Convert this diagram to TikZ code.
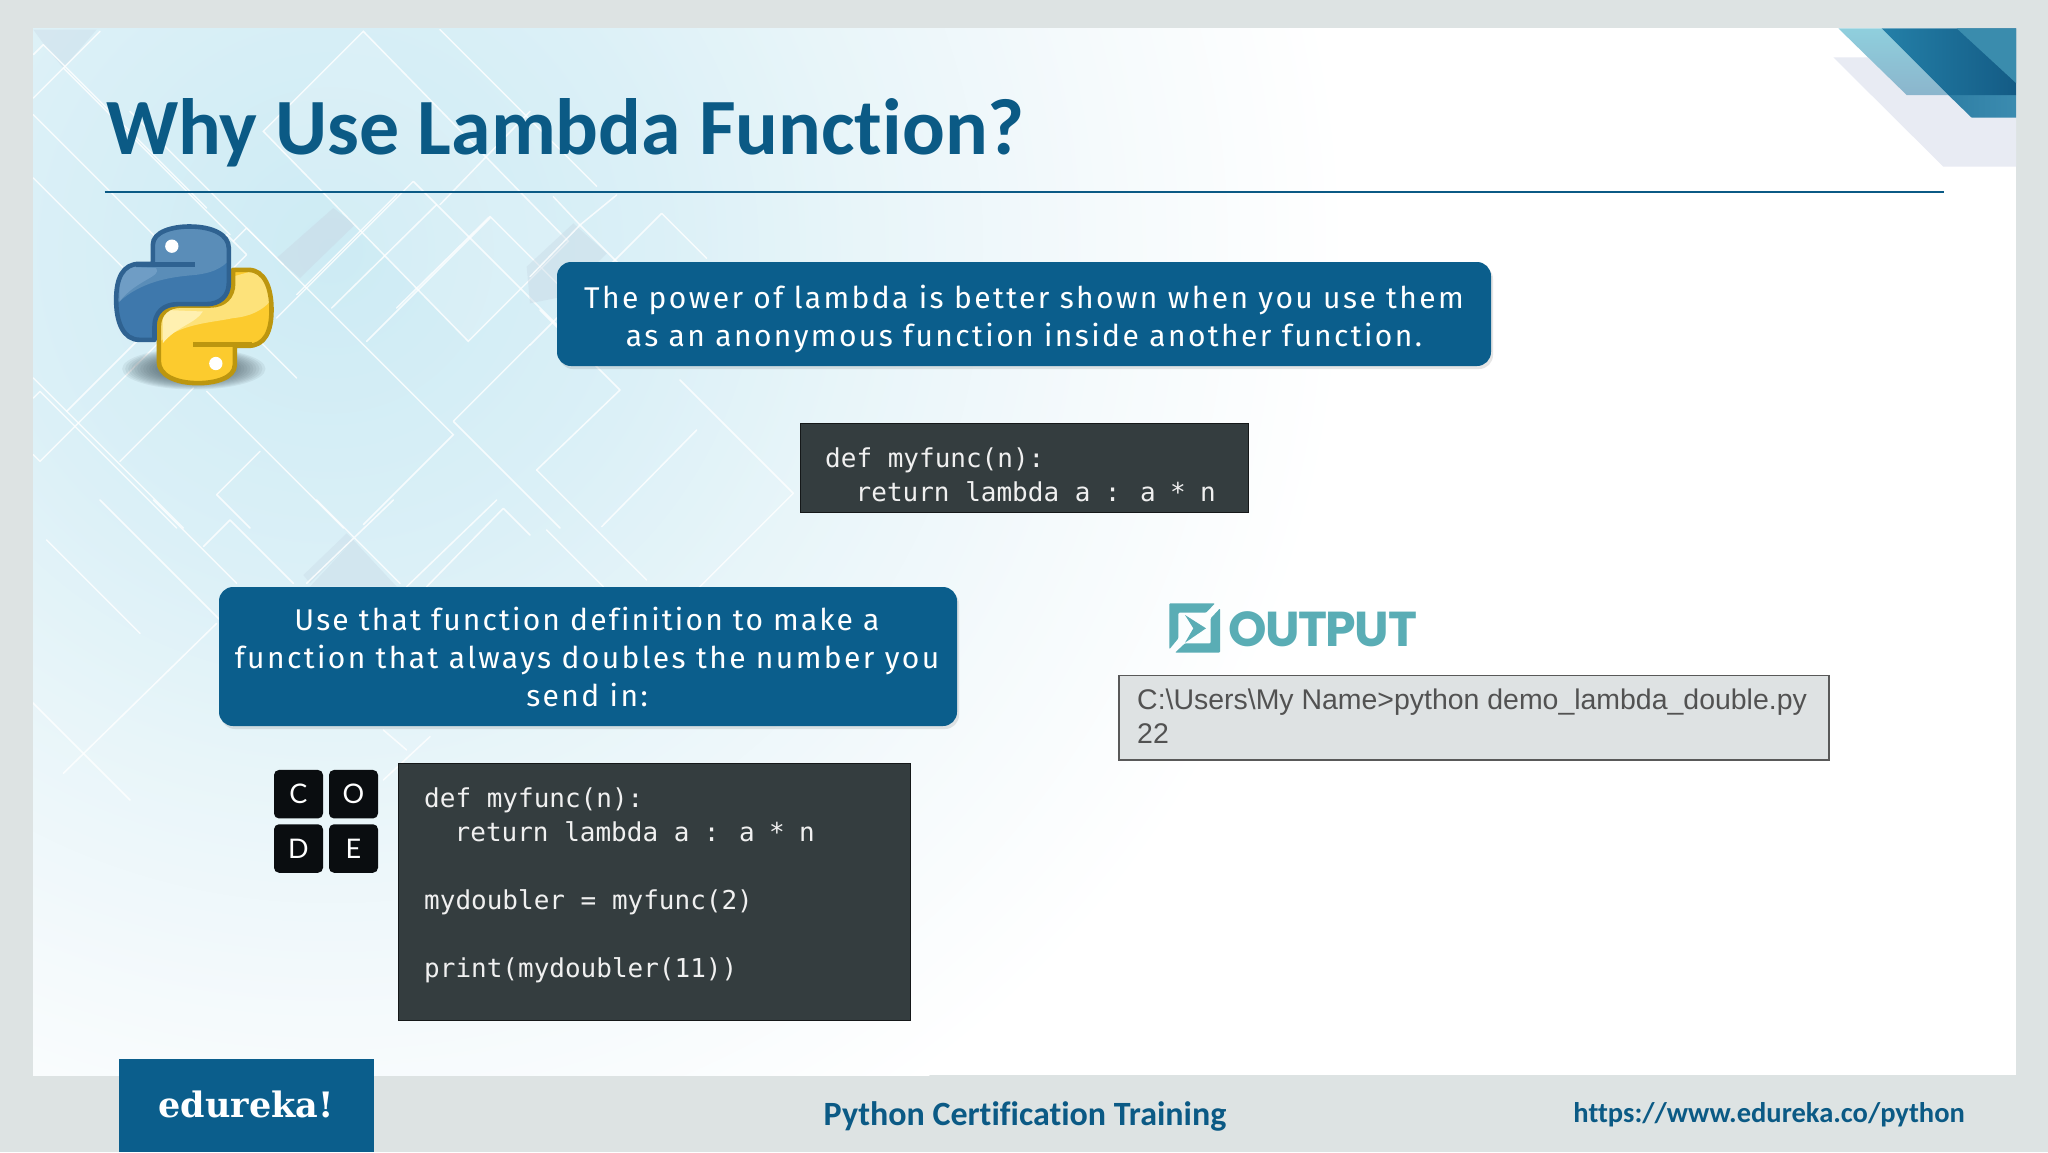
\documentclass[tikz,border=0pt]{standalone}
\usepackage{fontspec}
\setmainfont{Liberation Sans}
\newfontfamily\titlefont{Carlito}[BoldFont=Carlito Bold,Ligatures=NoCommon]
\newfontfamily\boxfont{Fira Sans}[LetterSpace=8,Ligatures=NoCommon]
\newfontfamily\codefont{DejaVu Sans Mono}
\newfontfamily\slabfont{DejaVu Serif}
\newfontfamily\logofont{Poppins}
\newfontfamily\tilefont{Lato}
\definecolor{frameC}{HTML}{DDE3E3}
\definecolor{eduB}{HTML}{0B5E8C}
\definecolor{titleB}{HTML}{0B5A85}
\definecolor{codeC}{HTML}{343D3F}
\definecolor{tealC}{HTML}{5AADB5}
\definecolor{outC}{HTML}{DEE2E3}
\definecolor{bandC}{HTML}{C9DAE6}
\definecolor{glowA}{HTML}{CDEBF4}
\definecolor{glowB}{HTML}{DBF0F7}
\definecolor{glowC}{HTML}{E8F5F9}
\definecolor{glowD}{HTML}{F5FAFC}
\definecolor{pyBlueLine}{HTML}{2F6291}
\definecolor{pyBlueFar}{HTML}{3E78AC}
\definecolor{pyBlueHead}{HTML}{5A8DB8}
\definecolor{pyBlueHi}{HTML}{6F9DC5}
\definecolor{pyYelLine}{HTML}{BC960F}
\definecolor{pyYelBase}{HTML}{FCCB2E}
\definecolor{pyYelUp}{HTML}{FDE27A}
\definecolor{pyYelHi}{HTML}{FFF0B0}
\definecolor{shadowC}{HTML}{4A5C64}
\definecolor{cornerGrey}{HTML}{E8EBF3}
\definecolor{cornerTealA}{HTML}{8FCFDD}
\definecolor{cornerTealB}{HTML}{8BB5CC}
\definecolor{cornerMainA}{HTML}{2480A8}
\definecolor{cornerMainB}{HTML}{135A84}
\definecolor{cornerTop}{HTML}{3A8CAD}
\definecolor{cornerLowA}{HTML}{2F7FA5}
\definecolor{cornerLowB}{HTML}{3C8CB0}
\definecolor{tileC}{HTML}{0A0D10}
\pgfdeclareradialshading{bgglow}{\pgfpointorigin}{
 color(0bp)=(glowA);
 color(8bp)=(glowB);
 color(13bp)=(glowC);
 color(19bp)=(glowD);
 color(25bp)=(white);
 color(50bp)=(white)}
\tikzset{
 bgline/.style={draw=white,line width=1.5pt,opacity=.8,line cap=round},
 bgband/.style={fill=bandC,opacity=.55},
 bubble/.style={fill=eduB,rounded corners=14pt,inner sep=0pt},
 bubbletext/.style={text=white,align=center,inner sep=0pt,
   font=\boxfont\fontsize{30}{37.8}\selectfont},
 bubbleshadow/.style={fill=black!55,opacity=.18,rounded corners=14pt},
 codebox/.style={fill=codeC,draw=black!60!codeC,line width=.8pt,inner sep=0pt},
 codetext/.style={text=white!94!black,align=left,inner sep=0pt,anchor=north west,
   font=\codefont\fontsize{26}{34}\selectfont},
 tile/.style={fill=tileC,rounded corners=5pt,text=white,inner sep=0pt,
   minimum width=49pt,minimum height=48.5pt,font=\tilefont\fontsize{27}{27}\selectfont},
 footertext/.style={text=titleB,inner sep=0pt,font=\titlefont\bfseries\fontsize{34}{34}\selectfont},
}
\newcommand{\bluepath}{(160,157) -- (160,100) .. controls (160,60) and (220,45) .. (270,45) .. controls (340,45) and (388,70) .. (388,110) -- (388,215) .. controls (388,255) and (360,278) .. (320,278) -- (235,278) .. controls (190,278) and (165,305) .. (165,345) -- (165,385) -- (120,385) .. controls (70,385) and (50,330) .. (50,265) .. controls (50,200) and (70,157) .. (120,157) -- cycle}
\newcommand{\yellowpath}{(406,403) -- (406,460) .. controls (406,500) and (346,515) .. (296,515) .. controls (226,515) and (178,490) .. (178,450) -- (178,345) .. controls (178,305) and (206,282) .. (246,282) -- (331,282) .. controls (376,282) and (401,255) .. (401,215) -- (401,175) -- (446,175) .. controls (496,175) and (516,230) .. (516,295) .. controls (516,360) and (496,403) .. (446,403) -- cycle}
\newcommand{\returnline}{\strut\ \ \kern-.8pt return lambda a\kern-1.3pt{} :\kern-1.3pt{} a\kern-1.3pt{} *\kern-1.3pt{} n}
\begin{document}
\begin{tikzpicture}[x=1pt,y=-1pt]
\useasboundingbox (0,0) rectangle (2048,1152);
\fill[frameC] (0,0) rectangle (2048,1152);
\fill[white] (33,28) rectangle (2016,1075);
\begin{scope}
 \clip (33,28) rectangle (2016,1075);
 \shade[shading=bgglow] (330,250) circle (1020);
 % diamonds, upper left
 \begin{scope}[shift={(30,28)},scale=1/3]
  \fill[white,opacity=.14] (1000,10) -- (700,310) -- (1315,940) -- (1615,640) -- cycle;
  \fill[bgband] (910,540) -- (740,690) -- (810,750) -- (975,590) -- cycle;
  \fill[bgband,opacity=.4] (10,5) -- (200,5) -- (100,120) -- (50,60) -- cycle;
  \path[bgline] (1000,10) -- (700,310) -- (1315,940) -- (1615,640) -- cycle;
  \path[bgline] (1150,460) -- (740,870) (1150,460) -- (1700,1010);
  \path[bgline] (1380,565) -- (1100,840) (1380,565) -- (1620,805);
  \path[bgline] (40,50) -- (10,80) (40,50) -- (530,540);
  \path[bgline] (100,120) -- (600,620);
  \path[bgline] (300,250) -- (1270,1220) -- (1000,1490);
  \path[bgline] (10,260) -- (800,1050);
  \path[bgline] (10,450) -- (560,1000);
  \path[bgline] (530,1090) -- (940,1500);
  \path[bgline] (30,1090) -- (10,1110) (30,1090) -- (440,1500);
  \path[bgline] (10,1050) -- (460,1500);
  \path[bgline] (30,1300) -- (10,1280) (30,1300) -- (400,930);
  \path[bgline] (110,1150) -- (500,760);
  \path[bgline] (270,1300) -- (490,1080);
  \path[bgline] (100,120) -- (210,10) (10,210) -- (100,120);
  \path[bgline] (650,600) -- (610,640) (650,600) -- (760,710);
  \path[bgline] (650,680) -- (590,620) (650,680) -- (610,720);
  \path[bgline] (1270,1180) -- (1500,950) (1270,1180) -- (1590,1500);
  \path[bgline] (560,1400) -- (690,1270) (560,1400) -- (660,1500);
  \path[bgline] (800,800) -- (1100,500);
  \path[bgline] (1010,940) -- (1380,570);
  \path[bgline] (905,840) -- (1220,530);
  \path[bgline] (1230,530) -- (1500,250);
  \path[bgline] (1230,5) -- (1700,475);
 \end{scope}
 % diamonds, centre
 \begin{scope}[shift={(530,190)},scale=1/3]
  \fill[bgband,opacity=.45] (-10,230) -- (130,100) -- (230,190) -- (100,320) -- (0,340) -- cycle;
  \path[bgline] (395,70) -- (160,305) -- (0,465) (395,70) -- (530,205);
  \path[bgline] (70,20) -- (150,105) -- (300,255);
  \path[bgline] (260,15) -- (150,105) -- (0,260);
  \path[bgline] (270,600) -- (20,840) (270,600) -- (30,360);
  \path[bgline] (790,910) -- (450,570) (790,910) -- (500,1200);
  \path[bgline] (20,840) -- (350,1170);
  \path[bgline] (50,1020) -- (220,1190);
  \path[bgline] (215,1010) -- (500,720);
 \end{scope}
 % diamonds, lower left
 \begin{scope}[shift={(30,500)},scale=1/3]
  \fill[bgband,opacity=.4] (950,100) -- (820,225) -- (840,250) -- (970,120) -- cycle;
  \fill[bgband,opacity=.45] (970,120) -- (840,260) -- (1100,260) -- cycle;
  \path[bgline] (600,60) -- (520,140) (600,60) -- (790,250);
  \path[bgline] (860,0) -- (1110,250) (1090,0) -- (830,250);
  \path[bgline] (1420,25) -- (1190,260) (1420,25) -- (1500,105);
  \path[bgline] (1400,0) -- (1130,260);
  \path[bgline] (370,0) -- (620,250);
  \path[bgline] (210,0) -- (830,620);
  \path[bgline] (50,120) -- (330,400);
  \path[bgline] (0,600) -- (300,900);
  \path[bgline] (100,820) -- (560,370);
  \path[bgline] (1060,690) -- (1130,750) (1200,710) -- (1060,840);
 \end{scope}
 % corner decoration
 \begin{scope}[shift={(1820,20)},scale=1/3]
  \fill[cornerGrey] (40,112) -- (600,112) -- (600,440) -- (370,440) -- cycle;
  \shade[left color=cornerLowA,right color=cornerLowB] (385,225) -- (600,225) -- (600,293) -- (455,293) -- cycle;
  \shade[top color=cornerTealA,bottom color=cornerTealB] (55,25) -- (185,25) -- (385,225) -- (260,225) -- cycle;
  \shade[left color=cornerMainA,right color=cornerMainB] (185,25) -- (600,25) -- (600,225) -- (385,225) -- cycle;
  \fill[cornerTop] (410,25) -- (600,25) -- (600,200) -- cycle;
 \end{scope}
\end{scope}
% title and rule
\node[anchor=west,text=titleB,inner sep=0pt,font=\titlefont\bfseries\fontsize{79.8}{80}\selectfont] (title) at (106,132.5) {Why Use Lambda Function?};
\coordinate (ruleL) at (104.5,192);
\coordinate (ruleR) at (1944,192);
\draw[titleB,line width=1.8pt] (ruleL) -- (ruleR);
% python logo
\begin{scope}[shift={(99.5,211.5)},scale=1/3]
 \foreach \k in {0,...,11} {
  \fill[shadowC,opacity=.085] (283,472) ellipse ({215-\k*9} and {62-\k*2.6});
 }
 % yellow snake
 \begin{scope}
  \clip \yellowpath;
  \fill[pyYelBase] (160,160) rectangle (530,530);
  \fill[pyYelUp] (170,400) .. controls (240,335) and (330,335) .. (400,320) .. controls (450,315) and (490,300) .. (525,255) -- (525,160) -- (170,260) -- cycle;
  \fill[pyYelHi] (190,395) .. controls (230,345) and (290,335) .. (310,300) -- (190,295) -- cycle;
 \end{scope}
 \draw[pyYelLine,line width=4.6pt,line join=round] \yellowpath;
 \draw[pyYelLine,line width=5pt] (456,400) -- (281,400);
 \fill[white] (349,456) circle (20);
 % blue snake
 \begin{scope}
  \clip \bluepath;
  \fill[pyBlueFar] (30,30) rectangle (400,400);
  \fill[pyBlueHead] (40,290) .. controls (120,200) and (240,195) .. (290,190) .. controls (330,185) and (365,175) .. (395,140) -- (395,30) -- (150,30) -- (40,150) -- cycle;
  \fill[pyBlueHi] (60,270) .. controls (110,205) and (190,195) .. (170,170) -- (60,165) -- cycle;
 \end{scope}
 \draw[pyBlueLine,line width=4.6pt,line join=round] \bluepath;
 \draw[pyBlueLine,line width=5pt] (110,160) -- (285,160);
 \fill[white] (217,104) circle (20);
\end{scope}
% bubbles
\path[bubbleshadow] (559,265) rectangle (1493,369);
\node[bubble,minimum width=934pt,minimum height=104pt] (b1) at (1024,314) {};
\node[bubbletext] (b1t) at (1024,319) {The power of lambda is better shown when you use them\\as an anonymous function inside another function.};
\path[bubbleshadow] (221,590) rectangle (959,729);
\node[bubble,minimum width=738pt,minimum height=139pt] (b2) at (588,656.5) {};
\node[bubbletext] (b2t) at (587,657) {\addfontfeature{LetterSpace=7.2}Use that function definition to make a\\function that always doubles the number you\\send in:};
% code
\node[codebox,minimum width=448pt,minimum height=89.5pt] (c1) at (1024,467.8) {};
\node[codetext] (c1t) at (825,443.5) {\strut def myfunc(n):\\\returnline};
\node[codebox,minimum width=512.5pt,minimum height=257.5pt] (c2) at (654.3,891.8) {};
\node[codetext] (c2t) at (424,783.5) {\strut def myfunc(n):\\\returnline\\\strut\\\strut mydoubler = myfunc(2)\\\strut\\\strut print(mydoubler(11))};
% CODE tiles
\node[tile] (tc) at (298.5,794.2) {C};
\node[tile] (to) at (353.5,794.2) {O};
\node[tile] (td) at (298.5,848.5) {D};
\node[tile] (te) at (353.5,848.5) {E};
% output
\begin{scope}[shift={(1150,590)},scale=1/3]
 \fill[tealC,rounded corners=1pt] (58,40) -- (195,40) -- (168,68) -- (85,68) -- (85,145) -- (58,178) -- cycle;
 \fill[tealC,rounded corners=1pt] (210,55) -- (210,188) -- (75,188) -- (105,160) -- (182,160) -- (182,85) -- cycle;
 \fill[tealC] (105,75) -- (168,115) -- (105,158) -- (130,115) -- cycle;
\end{scope}
\node[anchor=west,inner sep=0pt,text=tealC,font=\logofont\bfseries\fontsize{49}{49}\selectfont] (outp) at (1228,629) {\addfontfeature{LetterSpace=-3}OUTPUT};
\node[fill=outC,draw=black!65,line width=1.3pt,minimum width=710pt,minimum height=84.5pt,inner sep=0pt] (ob) at (1474,717.8) {};
\node[anchor=north west,inner sep=0pt,align=left,text=black!68,font=\fontsize{28.45}{34}\selectfont] (obt) at (1137,685.5) {\strut C:\textbackslash Users\textbackslash My Name>python demo\_lambda\_double.py\\\strut 22};
% footer
\node[fill=eduB,minimum width=255pt,minimum height=93pt,inner sep=0pt] (logo) at (246.5,1105.5) {};
\node[text=white,inner sep=0pt,font=\slabfont\bfseries\fontsize{35}{35}\selectfont] (logot) at (246,1104) {edureka!};
\node[footertext] (f1) at (1025,1116.5) {Python Certification Training};
\node[footertext,anchor=east,font=\titlefont\bfseries\fontsize{28.5}{28.5}\selectfont] (f2) at (1965,1115) {https://www.edureka.co/python};
\end{tikzpicture}
\end{document}
